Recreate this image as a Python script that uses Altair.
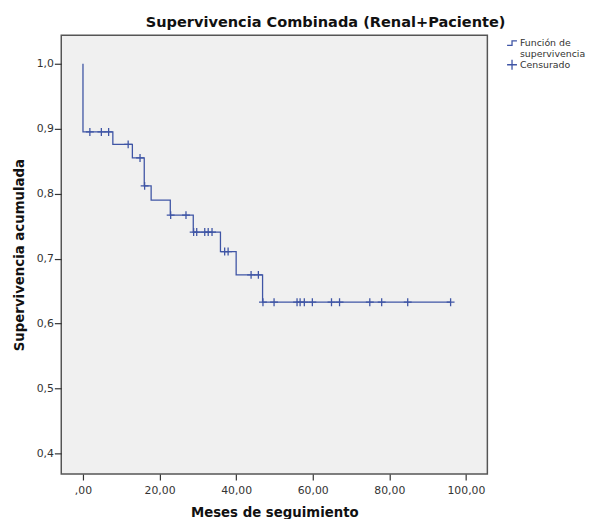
import altair as alt
import pandas as pd

# Kaplan-Meier step function (time in months, cumulative survival)
step_times = [0, 0, 7.8, 12.9, 16.0, 17.8, 22.8, 28.8, 35.9, 40.0, 46.9, 96.0]
step_surv = [1.0, 0.895, 0.876, 0.855, 0.812, 0.790, 0.767, 0.741, 0.711, 0.675, 0.633, 0.633]

# Censored observations
cens_times = [1.8, 4.8, 6.7, 11.8, 14.9, 16.1, 22.9, 26.9, 28.9, 29.7, 31.8, 32.7, 33.7,
              37.0, 37.9, 43.9, 45.8, 47.0, 49.9, 55.9, 56.7, 57.8, 59.9, 64.9, 67.0,
              74.9, 78.0, 84.8, 96.0]
cens_surv = ([0.895] * 3 + [0.876] + [0.855] + [0.812] + [0.767] * 2 + [0.741] * 5
             + [0.711] * 2 + [0.675] * 2 + [0.633] * 12)

legend_labels = ["Función de supervivencia", "Censurado"]
x_ticks = [0, 20, 40, 60, 80, 100]
y_ticks = [0.4, 0.5, 0.6, 0.7, 0.8, 0.9, 1.0]

BLUE = "#3f55a5"
FONT = "DejaVu Sans"
STEP_PATH = "M-1,0.45L0,0.45L0,-0.45L1,-0.45"
PLUS_PATH = "M-1,0L1,0M0,-1L0,1"

step_df = pd.DataFrame({"t": step_times, "s": step_surv, "i": list(range(len(step_times)))})
cens_df = pd.DataFrame({"t": cens_times, "s": cens_surv, "tipo": ["Censurado"] * len(cens_times)})

xscale = alt.Scale(domain=[-5.67, 105.6], nice=False, zero=False)
yscale = alt.Scale(domain=[0.3685, 1.044], nice=False, zero=False)

xaxis = alt.Axis(
    values=x_ticks, title="Meses de seguimiento", tickSize=6, labelPadding=5, grid=False,
    labelExpr="datum.value == 0 ? ',00' : replace(format(datum.value, '.2f'), '.', ',')",
    titlePadding=10, titleFontSize=13.5,
)
yaxis = alt.Axis(
    values=y_ticks, title="Supervivencia acumulada", tickSize=7, labelPadding=1, grid=False,
    labelExpr="replace(format(datum.value, '.1f'), '.', ',')",
    titlePadding=10, titleFontSize=13.5,
)

line = alt.Chart(step_df).mark_line(interpolate="step-after", color=BLUE, strokeWidth=1.3).encode(
    x=alt.X("t:Q", scale=xscale, axis=xaxis),
    y=alt.Y("s:Q", scale=yscale, axis=yaxis),
    order=alt.Order("i:Q"),
)

points = alt.Chart(cens_df).mark_point(filled=False, color=BLUE, size=64, strokeWidth=1.3, opacity=1).encode(
    x=alt.X("t:Q", scale=xscale),
    y=alt.Y("s:Q", scale=yscale),
    shape=alt.Shape(
        "tipo:N",
        scale=alt.Scale(domain=legend_labels, range=[STEP_PATH, PLUS_PATH]),
        legend=alt.Legend(
            title=None, orient="none", legendX=451, legendY=2, padding=0,
            symbolSize=100, symbolStrokeColor=BLUE, symbolStrokeWidth=1.3,
            symbolFillColor="transparent", labelFont=FONT, labelFontSize=9.5,
            labelColor="#333", labelOffset=2, rowPadding=-4, labelLimit=200,
            labelExpr="datum.label == 'Función de supervivencia' ? ['Función de', 'supervivencia'] : datum.label",
        ),
    ),
)

chart = (
    alt.layer(line, points)
    .properties(
        width=432, height=445,
        background="white",
        padding={"left": 54, "top": 24, "right": 100, "bottom": 42},
        autosize=alt.AutoSizeParams(type="none"),
        title=alt.TitleParams(
            "Supervivencia Combinada (Renal+Paciente)", font=FONT, fontSize=14.75,
            fontWeight="bold", color="#111", anchor="middle", frame="group",
            dx=52, dy=14, offset=5, baseline="bottom",
        ),
    )
    .configure_view(fill="#f0f0f0", stroke="#555", strokeWidth=1.5)
    .configure_axis(
        grid=False, domain=False, tickColor="#333", tickWidth=1.2, labelColor="#333",
        labelFont=FONT, labelFontSize=11, titleFont=FONT, titleFontWeight="bold",
        titleColor="#111",
    )
)

chart.save("out.html", embed_options={"renderer": "svg", "actions": False})
